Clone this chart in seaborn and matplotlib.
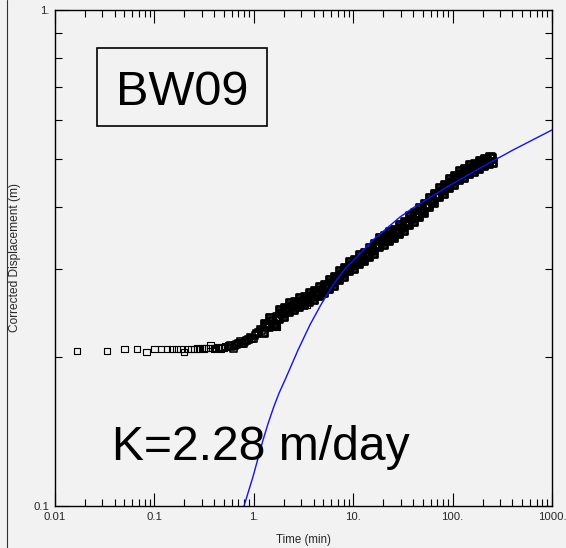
import numpy as np
import pandas as pd
import matplotlib
matplotlib.use("Agg")
import matplotlib.pyplot as plt
import matplotlib.ticker as mticker
from matplotlib.lines import Line2D
from matplotlib.patches import Rectangle
import seaborn as sns

# Observed data (time in min, corrected displacement in m)
# flat start, sparse markers
time_early = [0.0167, 0.0333, 0.05, 0.0667, 0.0833, 0.1, 0.1167, 0.1333, 0.15, 0.1667,
              0.1833, 0.2, 0.2167, 0.2333, 0.25, 0.2667, 0.2833, 0.3, 0.3167, 0.3333,
              0.35, 0.3667, 0.3833, 0.4, 0.4167, 0.4333, 0.45, 0.4667, 0.4833, 0.5,
              0.5167, 0.5333, 0.55, 1.711, 3.43]
disp_early = [0.2053, 0.2053, 0.2069, 0.2069, 0.2041, 0.2069, 0.2069, 0.2069, 0.2069, 0.2069,
              0.2069, 0.2041, 0.2069, 0.2069, 0.2069, 0.2077, 0.2069, 0.2085, 0.2077, 0.2085,
              0.2085, 0.2112, 0.2085, 0.2077, 0.2085, 0.2093, 0.2085, 0.2077, 0.2093, 0.2085,
              0.2100, 0.2093, 0.2108, 0.2296, 0.2542]

# start of the rise, markers begin to overlap
time_rise = [0.5762, 0.6224, 0.6724, 0.7264, 0.7847, 0.8477, 0.9158, 0.9894, 1.069, 1.155,
             0.599, 0.647, 0.699, 0.755, 0.816, 0.881, 0.952, 1.028, 1.111, 1.200]
disp_rise = [0.2104, 0.2081, 0.2115, 0.2151, 0.2124, 0.2158, 0.2191, 0.2178, 0.2226, 0.2275,
             0.2093, 0.2110, 0.2131, 0.2128, 0.2150, 0.2165, 0.2175, 0.2205, 0.2240, 0.2262]

# dense part of the record (overlapping markers)
time_band = [1.247, 1.347, 1.455, 1.572, 1.699, 1.835, 1.982, 2.142, 2.314, 2.499,
             2.700, 2.917, 3.151, 3.404, 3.677, 3.972, 4.291, 4.636, 5.008, 5.410,
             5.845, 6.314, 6.821, 7.369, 7.960, 8.599, 9.289, 10.03, 10.84, 11.71,
             12.65, 13.67, 14.76, 15.95, 17.23, 18.61, 20.10, 21.72, 23.46, 25.34,
             27.38, 29.58, 31.95, 34.51, 37.28, 40.27, 43.51, 47.00, 50.78, 54.85,
             59.25, 64.01, 69.15, 74.70, 80.70, 87.18, 94.17, 101.7, 109.9, 118.7,
             128.3, 138.6, 149.7, 161.7, 174.7, 188.7, 203.9, 220.2, 237.9,
             227.1, 243.4, 249.1,
             1.296, 1.400, 1.512, 1.634, 1.766, 1.907, 2.060, 2.226, 2.405, 2.597,
             2.806, 3.032, 3.275, 3.538, 3.822, 4.128, 4.460, 4.819, 5.205, 5.623,
             6.075, 6.563, 7.090, 7.659, 8.274, 8.938, 9.655, 10.43, 11.27, 12.17,
             13.15, 14.21, 15.34, 16.58, 17.91, 19.34, 20.89, 22.58, 24.38, 26.34,
             28.46, 30.75, 33.21, 35.87, 38.75, 41.86, 45.22, 48.85, 52.78, 57.01,
             61.58, 66.53, 71.88, 77.64, 83.88, 90.61, 97.88, 105.7, 114.2, 123.4,
             133.4, 144.1, 155.6, 168.1, 181.6, 196.1, 211.9, 228.9]
disp_band = [0.2243, 0.2317, 0.2393, 0.2335, 0.2408, 0.2484, 0.2419, 0.2493, 0.2567, 0.2493,
             0.2558, 0.2627, 0.2551, 0.2618, 0.2688, 0.2614, 0.2688, 0.2764, 0.2692, 0.2773,
             0.2855, 0.2790, 0.2882, 0.2977, 0.2908, 0.3005, 0.3104, 0.3023, 0.3114, 0.3206,
             0.3123, 0.3217, 0.3313, 0.3241, 0.3355, 0.3470, 0.3375, 0.3470, 0.3567, 0.3475,
             0.3579, 0.3686, 0.3601, 0.3721, 0.3844, 0.3750, 0.3867, 0.3989, 0.3903, 0.4039,
             0.4178, 0.4088, 0.4230, 0.4376, 0.4276, 0.4418, 0.4563, 0.4453, 0.4590, 0.4735,
             0.4605, 0.4735, 0.4869, 0.4729, 0.4853, 0.4960, 0.4867, 0.4979, 0.5053,
             0.4914, 0.5029, 0.4937,
             0.2333, 0.2301, 0.2364, 0.2317, 0.2389, 0.2451, 0.2513, 0.2471, 0.2528, 0.2584,
             0.2532, 0.2588, 0.2645, 0.2592, 0.2651, 0.2713, 0.2663, 0.2728, 0.2797, 0.2750,
             0.2822, 0.2901, 0.2861, 0.2942, 0.3026, 0.2984, 0.3063, 0.3141, 0.3087, 0.3165,
             0.3244, 0.3189, 0.3276, 0.3375, 0.3333, 0.3422, 0.3502, 0.3438, 0.3521, 0.3610,
             0.3549, 0.3643, 0.3747, 0.3694, 0.3796, 0.3897, 0.3837, 0.3946, 0.4064, 0.4013,
             0.4132, 0.4256, 0.4204, 0.4326, 0.4448, 0.4386, 0.4507, 0.4627, 0.4556, 0.4671,
             0.4780, 0.4692, 0.4798, 0.4903, 0.4806, 0.4913, 0.5003, 0.4934]

# Fitted solution curve
fit_time = [0.797, 0.982, 1.238, 1.390, 1.585, 1.793, 2.06, 2.785, 3.677, 4.786, 6.27, 8.318,
            10.9, 15.8, 29.6, 40.0, 87.8, 188.7, 405.0, 1000.0]
fit_disp = [0.1, 0.1146, 0.1358, 0.1465, 0.1583, 0.1688, 0.1795, 0.2063, 0.232, 0.2555, 0.279,
            0.3012, 0.3177, 0.3438, 0.3825, 0.399, 0.4396, 0.480, 0.522, 0.573]

x_ticks = [0.01, 0.1, 1, 10, 100, 1000]
x_labels = ["0.01", "0.1", "1.", "10.", "100.", "1000."]
y_ticks = [0.1, 1]
y_labels = ["0.1", "1."]

early = pd.DataFrame({"time": time_early, "disp": disp_early})
rise = pd.DataFrame({"time": time_rise, "disp": disp_rise})
band = pd.DataFrame({"time": time_band, "disp": disp_band})
fit = pd.DataFrame({"time": fit_time, "disp": fit_disp})

sns.set_theme(style="ticks")
plt.rcParams["font.family"] = ["Liberation Sans", "DejaVu Sans"]
bg = "#f2f2f2"

fig = plt.figure(figsize=(5.66, 5.48), dpi=100, facecolor=bg)
ax = fig.add_axes([55 / 566, 1 - 506 / 548, 497 / 566, 496 / 548])
ax.set_facecolor(bg)

sns.scatterplot(data=early, x="time", y="disp", marker="s", s=20, facecolor="none",
                edgecolor="black", linewidth=0.8, ax=ax, zorder=2)
sns.scatterplot(data=rise, x="time", y="disp", marker="s", s=24, facecolor="none",
                edgecolor="black", linewidth=1.2, ax=ax, zorder=2)
sns.scatterplot(data=band, x="time", y="disp", marker="s", s=30, facecolor="none",
                edgecolor="black", linewidth=2.0, ax=ax, zorder=2)
sns.lineplot(data=fit, x="time", y="disp", sort=False, estimator=None, color="#1010ff",
             linewidth=1.0, ax=ax, zorder=3)

ax.set_xscale("log")
ax.set_yscale("log")
ax.set_xlim(0.01, 1000)
ax.set_ylim(0.1, 1)

ax.xaxis.set_major_locator(mticker.FixedLocator(x_ticks))
ax.xaxis.set_major_formatter(mticker.FixedFormatter(x_labels))
ax.xaxis.set_minor_locator(mticker.LogLocator(base=10, subs=np.arange(2, 10)))
ax.xaxis.set_minor_formatter(mticker.NullFormatter())
ax.yaxis.set_major_locator(mticker.FixedLocator(y_ticks))
ax.yaxis.set_major_formatter(mticker.FixedFormatter(y_labels))
ax.yaxis.set_minor_locator(mticker.LogLocator(base=10, subs=np.arange(2, 10)))
ax.yaxis.set_minor_formatter(mticker.NullFormatter())

ax.tick_params(which="both", direction="in", top=True, right=True, color="black",
               width=0.8, labelsize=8.2, pad=4)
ax.tick_params(which="major", length=9.5)
ax.tick_params(which="minor", length=4.8)
for s in ax.spines.values():
    s.set_linewidth(1.0)
    s.set_color("black")

ax.set_xlabel("Time (min)", fontsize=8.3, labelpad=9)
ax.set_ylabel("Corrected Displacement (m)", fontsize=8.6, labelpad=9)

# Well label and conductivity annotation
ax.add_patch(Rectangle((0.0845, 0.7661), 0.3421, 0.1573, transform=ax.transAxes,
                       fill=False, edgecolor="black", linewidth=1.2, zorder=4))
ax.text(0.2555, 0.8085, "BW09", transform=ax.transAxes, ha="center", va="baseline",
        fontsize=35, color="black", zorder=5)
ax.text(0.115, 0.0927, "K=2.28 m/day", transform=ax.transAxes, ha="left", va="baseline",
        fontsize=34.6, color="black", zorder=5)

fig.add_artist(Line2D([6.5 / 566, 6.5 / 566], [0, 1], transform=fig.transFigure,
                      color="#333333", linewidth=0.8))

fig.savefig("out.png", dpi=100, facecolor=bg)
